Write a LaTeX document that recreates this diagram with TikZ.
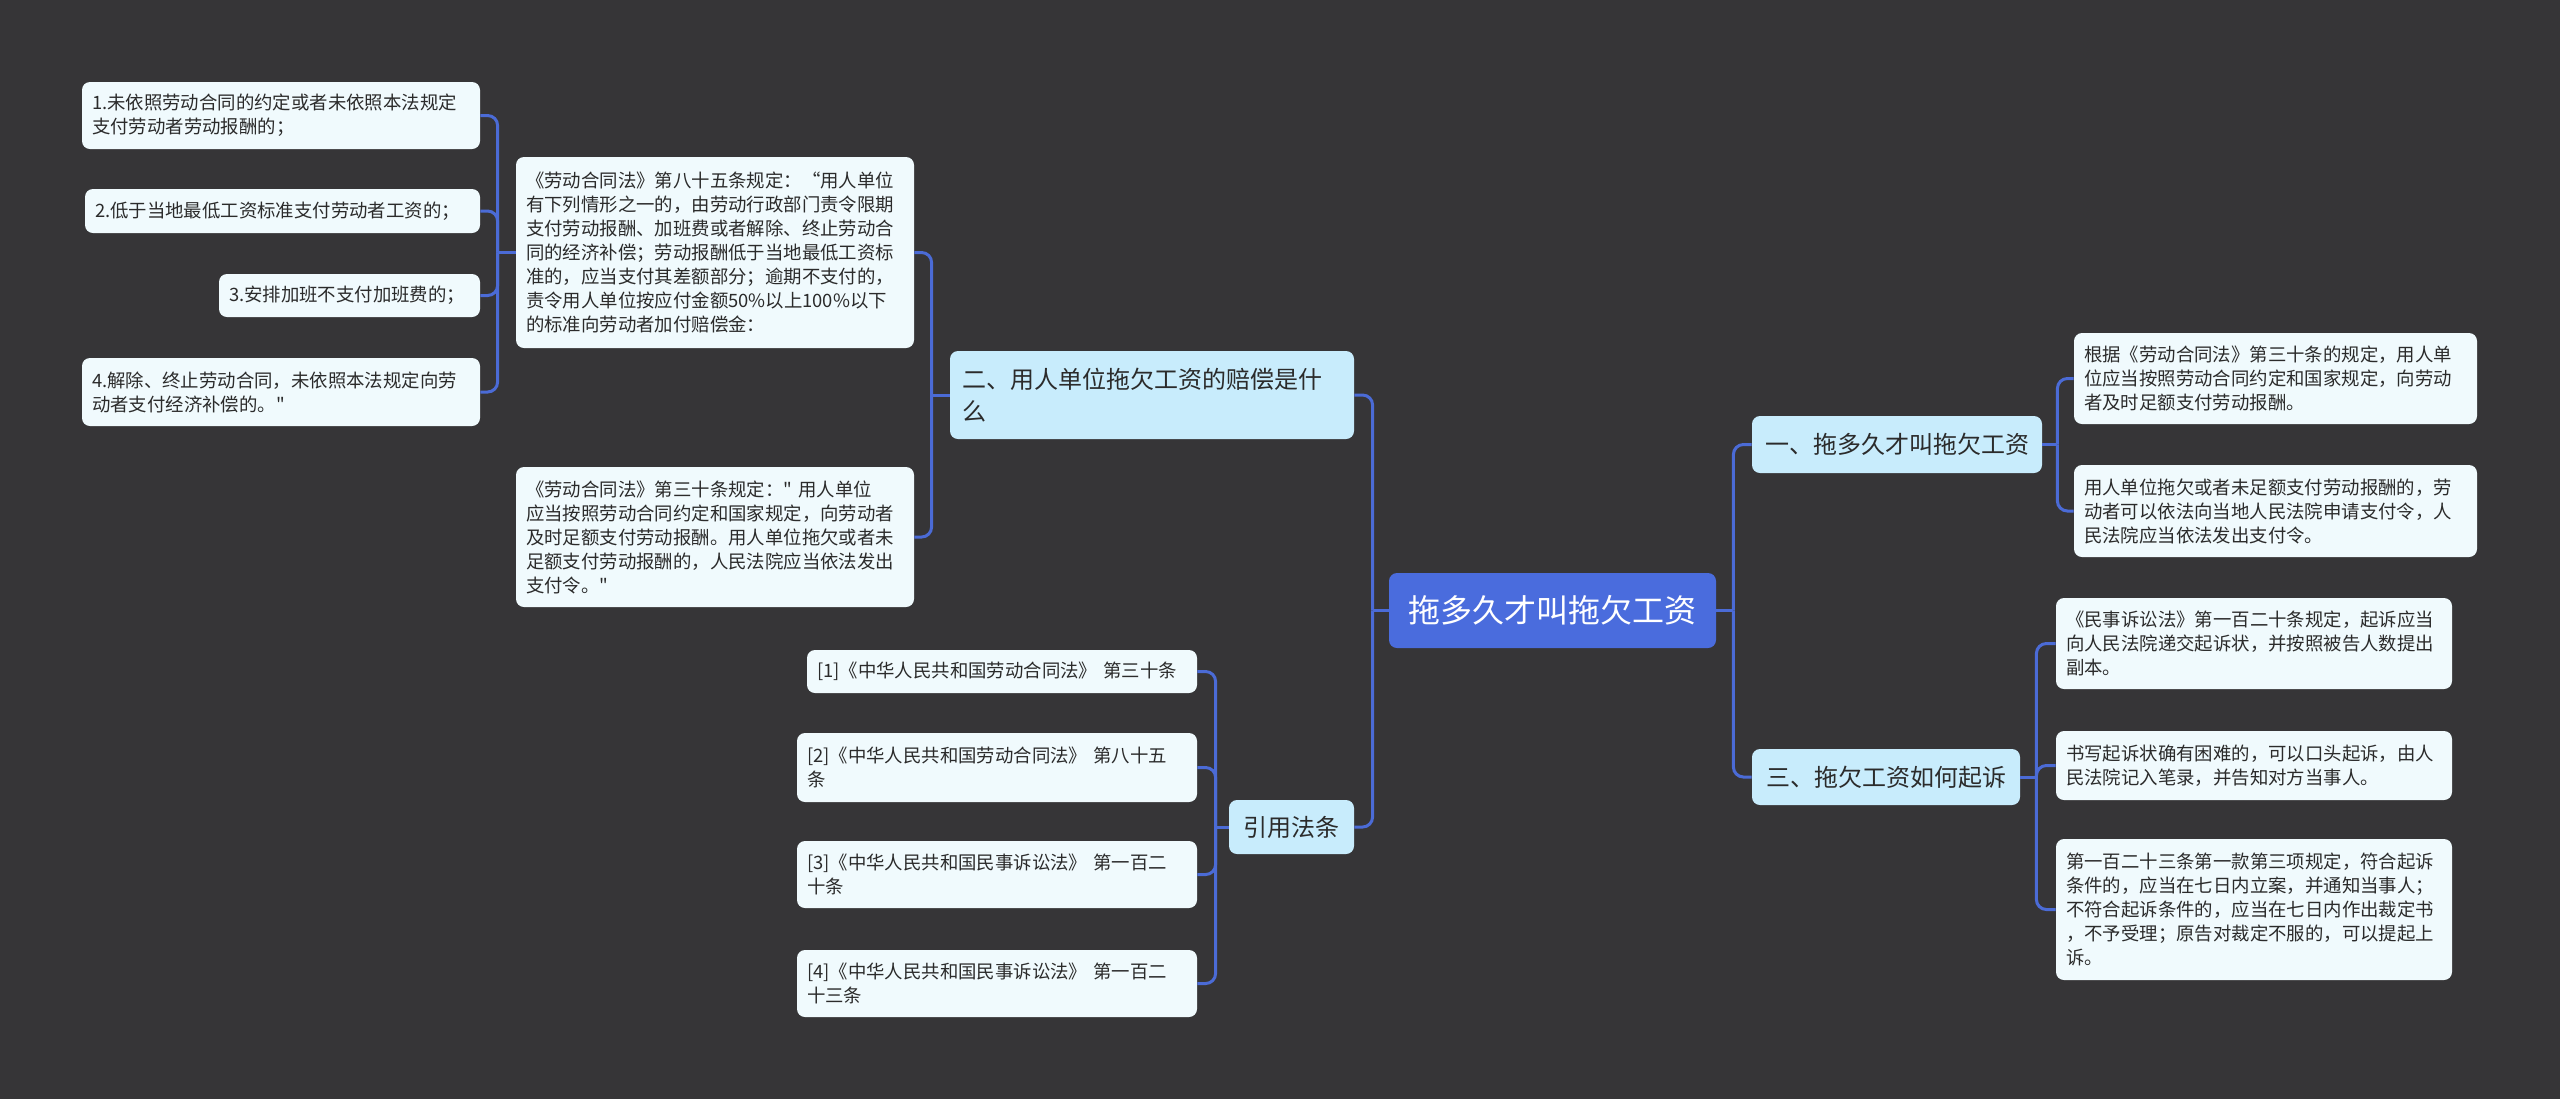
\documentclass[tikz,border=0pt]{standalone}
\usepackage{fontspec}
\newfontfamily\zhfont{Noto Sans CJK SC}
\definecolor{mybgcolor}{HTML}{363537}
\definecolor{mylinecolor}{HTML}{4B6BD6}
\definecolor{myrootcolor}{HTML}{4A6CDD}
\definecolor{mytopiccolor}{HTML}{C8ECFC}
\definecolor{myleafcolor}{HTML}{F0FAFD}
\definecolor{mytextcolor}{HTML}{2B2B2B}
\tikzset{
  rootbox/.style={fill=myrootcolor, rounded corners=4pt, text=white, font=\zhfont\fontsize{16pt}{20pt}\selectfont, inner sep=0pt},
  topicbox/.style={fill=mytopiccolor, rounded corners=4pt, text=mytextcolor, font=\zhfont\fontsize{12pt}{16pt}\selectfont, inner sep=0pt},
  leafbox/.style={fill=myleafcolor, rounded corners=4pt, text=mytextcolor, font=\zhfont\fontsize{9.2pt}{12pt}\selectfont, align=left, inner xsep=5pt, inner ysep=0pt},
  link/.style={draw=mylinecolor, line width=1.5pt, rounded corners=5pt},
}

\begin{document}
\begin{tikzpicture}[x=0.5pt, y=-0.5pt]%
\fill[mybgcolor] (0,0) rectangle (2560,1099);%
\useasboundingbox (0,0) rectangle (2560,1099);%
% centre
\node[rootbox, minimum width=163.5pt, minimum height=37.5pt] (root) at (1552.5,610.5) {拖多久才叫拖欠工资};%
% right side
\node[topicbox, minimum width=145pt, minimum height=28.5pt] (sa) at (1897,444.5) {一、拖多久才叫拖欠工资};%
\node[topicbox, minimum width=134pt, minimum height=28pt] (sc) at (1886,777) {三、拖欠工资如何起诉};%
\node[leafbox, text width=191.5pt, minimum height=45.5pt] (a1) at (2275.5,378.5) {根据《劳动合同法》第三十条的规定，用人单\\位应当按照劳动合同约定和国家规定，向劳动\\者及时足额支付劳动报酬。};%
\node[leafbox, text width=191.5pt, minimum height=46pt] (a2) at (2275.5,511) {用人单位拖欠或者未足额支付劳动报酬的，劳\\动者可以依法向当地人民法院申请支付令，人\\民法院应当依法发出支付令。};%
\node[leafbox, text width=188pt, minimum height=45.5pt] (c1) at (2254,643.5) {《民事诉讼法》第一百二十条规定，起诉应当\\向人民法院递交起诉状，并按照被告人数提出\\副本。};%
\node[leafbox, text width=188pt, minimum height=34.5pt] (c2) at (2254,765.5) {书写起诉状确有困难的，可以口头起诉，由人\\民法院记入笔录，并告知对方当事人。};%
\node[leafbox, text width=188pt, minimum height=70.5pt] (c3) at (2254,909.5) {第一百二十三条第一款第三项规定，符合起诉\\条件的，应当在七日内立案，并通知当事人；\\不符合起诉条件的，应当在七日内作出裁定书\\，不予受理；原告对裁定不服的，可以提起上\\诉。};%
% left side
\node[topicbox, text width=190pt, align=left, inner xsep=6pt, minimum height=44pt] (sb) at (1152,395) {二、用人单位拖欠工资的赔偿是什\\么};%
\node[topicbox, minimum width=62.5pt, minimum height=27pt] (sd) at (1291.5,827) {引用法条};%
\node[leafbox, text width=189pt, minimum height=95.5pt] (b1) at (715,252.5) {《劳动合同法》第八十五条规定：“用人单位\\有下列情形之一的，由劳动行政部门责令限期\\支付劳动报酬、加班费或者解除、终止劳动合\\同的经济补偿；劳动报酬低于当地最低工资标\\准的，应当支付其差额部分；逾期不支付的，\\责令用人单位按应付金额50\%以上100\%以下\\的标准向劳动者加付赔偿金：};%
\node[leafbox, text width=189pt, minimum height=70pt] (b2) at (715,537) {《劳动合同法》第三十条规定：" 用人单位\\应当按照劳动合同约定和国家规定，向劳动者\\及时足额支付劳动报酬。用人单位拖欠或者未\\足额支付劳动报酬的，人民法院应当依法发出\\支付令。"};%
\node[leafbox, text width=189pt, minimum height=33.5pt] (i1) at (281,115.5) {1.未依照劳动合同的约定或者未依照本法规定\\支付劳动者劳动报酬的；};%
\node[leafbox, text width=187.5pt, minimum height=22pt] (i2) at (282.5,211) {2.低于当地最低工资标准支付劳动者工资的；};%
\node[leafbox, text width=120.5pt, minimum height=21.5pt] (i3) at (349.5,295.5) {3.安排加班不支付加班费的；};%
\node[leafbox, text width=189pt, minimum height=34pt] (i4) at (281,392) {4.解除、终止劳动合同，未依照本法规定向劳\\动者支付经济补偿的。"};%
\node[leafbox, text width=185pt, minimum height=21.5pt] (r1) at (1002,671.5) {[1]《中华人民共和国劳动合同法》 第三十条};%
\node[leafbox, text width=190pt, minimum height=34.5pt] (r2) at (997,767.5) {[2]《中华人民共和国劳动合同法》 第八十五\\条};%
\node[leafbox, text width=190pt, minimum height=33.5pt] (r3) at (997,874.5) {[3]《中华人民共和国民事诉讼法》 第一百二\\十条};%
\node[leafbox, text width=190pt, minimum height=33.5pt] (r4) at (997,983.5) {[4]《中华人民共和国民事诉讼法》 第一百二\\十三条};%
% connectors
\coordinate (rl) at ([xshift=-8pt]root.west);%
\coordinate (rr) at ([xshift=8.5pt]root.east);%
\coordinate (ta) at ([xshift=7.5pt]sa.east);%
\coordinate (tc) at ([xshift=8pt]sc.east);%
\coordinate (tb) at ([xshift=-9pt]sb.west);%
\coordinate (tb1) at ([xshift=-9pt]b1.west);%
\coordinate (td) at ([xshift=-6.5pt]sd.west);%
\draw[link] (root.west) -- (rl);%
\draw[link] (root.east) -- (rr);%
\draw[link] (sa.east) -- (ta);%
\draw[link] (sc.east) -- (tc);%
\draw[link] (sb.west) -- (tb);%
\draw[link] (b1.west) -- (tb1);%
\draw[link] (sd.west) -- (td);%
\foreach \c in {sb,sd} \draw[link] (rl) |- (\c.east);%
\foreach \c in {sa,sc} \draw[link] (rr) |- (\c.west);%
\foreach \c in {a1,a2} \draw[link] (ta) |- (\c.west);%
\foreach \c in {c1,c2,c3} \draw[link] (tc) |- (\c.west);%
\foreach \c in {b1,b2} \draw[link] (tb) |- (\c.east);%
\foreach \c in {i1,i2,i3,i4} \draw[link] (tb1) |- (\c.east);%
\foreach \c in {r1,r2,r3,r4} \draw[link] (td) |- (\c.east);%
\end{tikzpicture}
\end{document}
